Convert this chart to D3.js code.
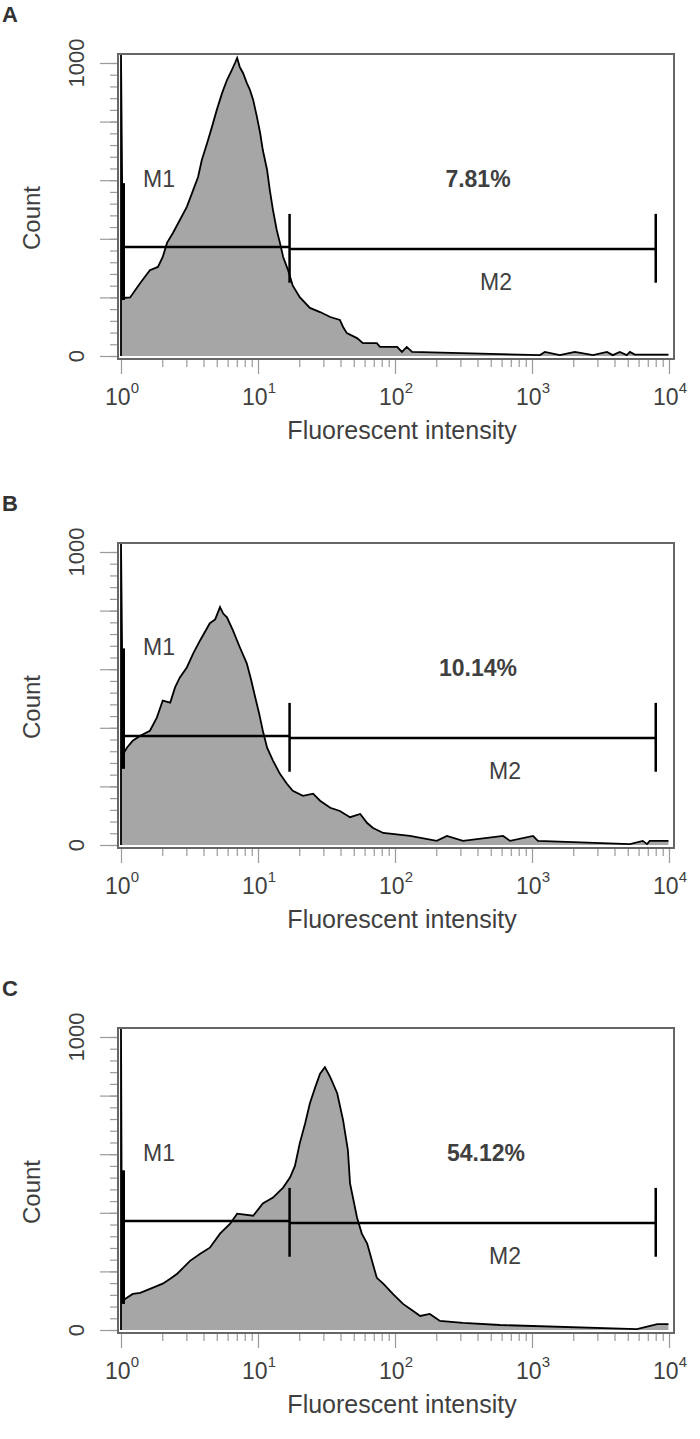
<!DOCTYPE html>
<html><head><meta charset="utf-8">
<script src="https://cdn.jsdelivr.net/npm/d3@7"></script>
<style>body{margin:0;background:#fff}svg{display:block}text{font-family:"Liberation Sans",Arial,sans-serif}</style>
</head><body>
<script>
// ---------- data ----------
const panelLetters = ["A", "B", "C"];
const percentLabels = ["7.81%", "10.14%", "54.12%"];
const xTickDecades = [0, 1, 2, 3, 4];
const yTickLabels = [0, 1000];
const xAxisTitle = "Fluorescent intensity";
const yAxisTitle = "Count";

// channel (1024 channels over 4 decades) and count
const channelsA = [0,4,17,36,54,69,78,86,97,110,123,135,144,151,161,170,179,189,198,207,213,217,222,228,235,241,247,254,260,265,273,278,284,291,297,303,312,321,334,353,372,391,409,415,422,441,452,478,484,516,525,534,544,783,792,820,848,882,908,919,932,945,951,960,1023];
const countsA   = [1028,198,200,249,293,304,338,386,420,464,509,567,611,669,727,782,840,898,942,976,1000,1017,986,966,932,908,874,816,761,703,635,567,498,430,386,338,294,240,201,164,150,133,123,99,78,61,44,44,31,31,14,31,14,3,14,3,14,3,14,3,14,3,14,5,5];

const channelsB = [0,4,11,22,36,54,67,78,92,101,110,123,135,148,166,176,185,191,198,209,222,235,243,250,258,265,273,284,297,310,321,340,359,372,391,409,428,447,460,471,490,540,590,609,639,714,727,770,779,951,975,983,988,1023];
const countsB   = [1028,310,332,356,373,390,435,493,486,538,572,606,654,699,757,770,812,790,777,733,675,620,565,510,450,390,332,288,243,209,185,168,175,151,127,116,95,106,75,58,41,31,14,31,14,31,14,31,14,3,14,3,14,14];

const channelsC = [0,2,11,22,36,78,92,105,116,129,148,166,185,204,217,247,265,284,303,316,325,334,344,353,363,372,381,391,404,415,424,428,441,450,460,469,478,490,508,527,546,559,577,596,639,708,964,1002,1023];
const countsC   = [1028,99,110,123,127,158,175,192,212,236,260,281,329,363,397,390,432,452,486,521,560,637,705,774,829,875,897,863,808,716,613,500,384,329,295,236,178,158,123,89,65,48,55,31,24,17,3,20,20];

const channelSets = [channelsA, channelsB, channelsC];
const countSets = [countsA, countsB, countsC];

// gates (intensity) and marker levels (count units)
const gateM1 = [1, 17];
const gateM2 = [17, 8000];
const markerLevelM1 = 372;
const markerLevelM2 = 365;
const markerEndRange = [250, 485];
const m1EdgeRanges = [[191, 590], [260, 671], [89, 545]];

// ---------- layout ----------
const W = 700, H = 1439;
const panelTops = [0, 489, 974];
const m1LabelBaseline = [187, 166, 187];
const pctLabelX = [478, 478, 486];
const m2LabelX = [496, 505, 505];
const svg = d3.select("body").append("svg").attr("width", W).attr("height", H);

const x = d3.scaleLog().domain([1, 1e4]).range([121, 669]);
const y = d3.scaleLinear().domain([0, 1000]).range([356, 63]);
const chToI = ch => Math.pow(10, ch / 256);
const textColor = "#3f3f3f";
const tickColor = "#9a9a9a";

panelLetters.forEach((letter, i) => {
  const g = svg.append("g").attr("transform", `translate(0,${panelTops[i]})`);

  g.append("text").attr("x", 2).attr("y", 22).attr("font-size", 22).attr("font-weight", "bold")
    .attr("fill", "#333").text(letter);

  // histogram
  const pts = channelSets[i].map((c, k) => [chToI(c), countSets[i][k]]);
  const area = d3.area().x(d => x(d[0])).y0(y(0)).y1(d => y(d[1])).curve(d3.curveLinear);
  const line = d3.line().x(d => x(d[0])).y(d => y(d[1])).curve(d3.curveLinear);
  const full = [[1, 0], ...pts];
  g.append("path").attr("d", area(pts)).attr("fill", "#a6a6a6");
  g.append("path").attr("d", line(full)).attr("fill", "none").attr("stroke", "#000").attr("stroke-width", 1.8)
    .attr("stroke-linejoin", "miter");

  // frame
  g.append("rect").attr("x", 118).attr("y", 54).attr("width", 556).attr("height", 305)
    .attr("fill", "none").attr("stroke", "#666").attr("stroke-width", 2);

  // y axis ticks
  const yMajor = d3.axisLeft(y).tickValues(d3.range(0, 1001, 200)).tickSize(17).tickFormat("");
  const yMinor = d3.axisLeft(y).tickValues(d3.range(0, 1001, 40)).tickSize(7).tickFormat("");
  [yMinor, yMajor].forEach(ax => {
    const a = g.append("g").attr("transform", "translate(117,0)").call(ax);
    a.select(".domain").remove();
    a.selectAll("line").attr("stroke", tickColor).attr("stroke-width", 1.2);
  });
  yTickLabels.forEach(v => {
    g.append("text").attr("transform", `translate(84,${y(v)}) rotate(-90)`)
      .attr("text-anchor", "middle").attr("font-size", 22).attr("fill", textColor).text(v);
  });

  // x axis ticks
  const minorVals = [];
  for (let d = 0; d < 4; d++) for (let m = 2; m <= 9; m++) minorVals.push(m * Math.pow(10, d));
  const majorVals = xTickDecades.map(d => Math.pow(10, d));
  const xMinor = d3.axisBottom(x).tickValues(minorVals).tickSize(7).tickFormat("");
  const xMajor = d3.axisBottom(x).tickValues(majorVals).tickSize(14).tickFormat("");
  [xMinor, xMajor].forEach(ax => {
    const a = g.append("g").attr("transform", "translate(0,360)").call(ax);
    a.select(".domain").remove();
    a.selectAll("line").attr("stroke", tickColor).attr("stroke-width", 1.2);
  });
  xTickDecades.forEach(d => {
    const t = g.append("text").attr("x", x(Math.pow(10, d)) + 1).attr("y", 405)
      .attr("text-anchor", "middle").attr("font-size", 23).attr("fill", textColor);
    t.append("tspan").text("10");
    t.append("tspan").attr("dy", -12).attr("font-size", 15).text(d);
  });

  // axis titles
  g.append("text").attr("x", 402).attr("y", 439).attr("text-anchor", "middle")
    .attr("font-size", 25).attr("fill", textColor).text(xAxisTitle);
  g.append("text").attr("transform", "translate(40,218) rotate(-90)").attr("text-anchor", "middle")
    .attr("font-size", 24).attr("fill", textColor).text(yAxisTitle);

  // markers
  const mk = g.append("g").attr("stroke", "#000");
  mk.append("line").attr("x1", x(gateM1[0]) + 2).attr("x2", x(gateM1[1]))
    .attr("y1", y(markerLevelM1)).attr("y2", y(markerLevelM1)).attr("stroke-width", 2.5);
  mk.append("line").attr("x1", x(gateM2[0])).attr("x2", x(gateM2[1]))
    .attr("y1", y(markerLevelM2)).attr("y2", y(markerLevelM2)).attr("stroke-width", 2.5);
  mk.append("line").attr("x1", x(gateM1[0]) + 2).attr("x2", x(gateM1[0]) + 2)
    .attr("y1", y(m1EdgeRanges[i][1])).attr("y2", y(m1EdgeRanges[i][0])).attr("stroke-width", 4);
  [gateM1[1], gateM2[1]].forEach(v => {
    mk.append("line").attr("x1", x(v)).attr("x2", x(v))
      .attr("y1", y(markerEndRange[1])).attr("y2", y(markerEndRange[0])).attr("stroke-width", 2.5);
  });

  g.append("text").attr("x", 143).attr("y", m1LabelBaseline[i]).attr("font-size", 23)
    .attr("fill", textColor).text("M1");
  g.append("text").attr("x", m2LabelX[i]).attr("y", 290).attr("text-anchor", "middle").attr("font-size", 23)
    .attr("fill", textColor).text("M2");
  g.append("text").attr("x", pctLabelX[i]).attr("y", 187).attr("text-anchor", "middle").attr("font-size", 23)
    .attr("font-weight", "bold").attr("fill", textColor).text(percentLabels[i]);
});
</script>
</body></html>
